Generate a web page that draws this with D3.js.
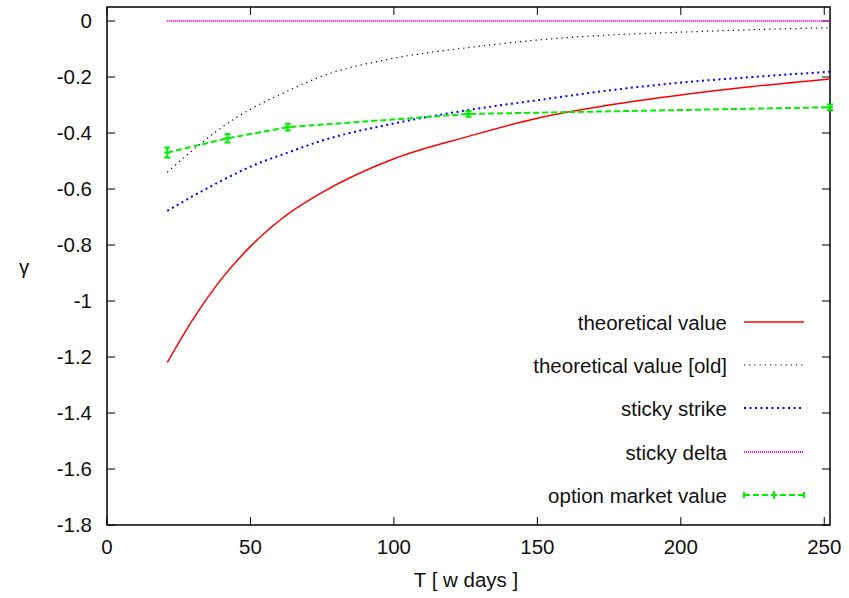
<!DOCTYPE html>
<html>
<head>
<meta charset="utf-8">
<script src="https://cdn.jsdelivr.net/npm/d3@7"></script>
<style>
  body { margin: 0; background: #fff; }
  text { font-family: "Liberation Sans", Arial, sans-serif; fill: #111; }
</style>
</head>
<body>
<script>
// values
let days = [21, 30, 40, 50, 63, 75, 100, 126, 150, 175, 200, 225, 252]
let theoretical = [-1.22, -1.065, -0.92, -0.805, -0.69, -0.612, -0.492, -0.412, -0.347, -0.300, -0.264, -0.234, -0.207]
let theoreticalOld = [-0.54, -0.46, -0.38, -0.315, -0.25, -0.197, -0.133, -0.095, -0.068, -0.05, -0.04, -0.031, -0.024]
let stickyStrike = [-0.678, -0.625, -0.57, -0.52, -0.47, -0.427, -0.366, -0.318, -0.283, -0.248, -0.22, -0.20, -0.181]
let stickyDelta = [0, 0, 0, 0, 0, 0, 0, 0, 0, 0, 0, 0, 0]
let marketDays = [21, 42, 63, 126, 252]
let marketValue = [-0.47, -0.419, -0.379, -0.332, -0.308]
let marketErr = [0.018, 0.015, 0.012, 0.01, 0.01]
let xTicks = [0, 50, 100, 150, 200, 250]
let yTicks = [0, -0.2, -0.4, -0.6, -0.8, -1, -1.2, -1.4, -1.6, -1.8]

let width = 849, height = 598
let m = { left: 107, right: 830, top: 7, bottom: 525 }
let fs = 20.5

let x = d3.scaleLinear().domain([0, 252]).range([m.left, m.right])
let y = d3.scaleLinear().domain([-1.8, 0.05]).range([m.bottom, m.top])

let svg = d3.select('body').append('svg').attr('width', width).attr('height', height)

// frame
svg.append('rect')
  .attr('x', m.left).attr('y', m.top)
  .attr('width', m.right - m.left).attr('height', m.bottom - m.top)
  .attr('fill', 'none').attr('stroke', '#000').attr('stroke-width', 1.5)

let tickLen = 8
let axes = svg.append('g').attr('stroke', '#000').attr('stroke-width', 1)
xTicks.forEach(t => {
  axes.append('line').attr('x1', x(t)).attr('x2', x(t)).attr('y1', m.bottom).attr('y2', m.bottom - tickLen)
  axes.append('line').attr('x1', x(t)).attr('x2', x(t)).attr('y1', m.top).attr('y2', m.top + tickLen)
  svg.append('text').attr('x', x(t)).attr('y', 554)
    .attr('text-anchor', 'middle').attr('font-size', fs).text(t)
})
yTicks.forEach(t => {
  axes.append('line').attr('x1', m.left).attr('x2', m.left + tickLen).attr('y1', y(t)).attr('y2', y(t))
  axes.append('line').attr('x1', m.right).attr('x2', m.right - tickLen).attr('y1', y(t)).attr('y2', y(t))
  svg.append('text').attr('x', 92).attr('y', y(t) + 7)
    .attr('text-anchor', 'end').attr('font-size', fs).text(t === 0 ? '0' : t)
})

svg.append('text').attr('x', 466).attr('y', 587)
  .attr('text-anchor', 'middle').attr('font-size', fs).text('T [ w days ]')
svg.append('text').attr('x', 24).attr('y', 274)
  .attr('text-anchor', 'middle').attr('font-size', fs).text('γ')

let line = d3.line().x(d => x(d[0])).y(d => y(d[1])).curve(d3.curveMonotoneX)

let series = [
  { name: 'theoretical value', vals: theoretical, color: '#ff0000', dash: null, w: 1.5 },
  { name: 'theoretical value [old]', vals: theoreticalOld, color: '#000000', dash: '1.2,4', w: 1.2 },
  { name: 'sticky strike', vals: stickyStrike, color: '#0000ff', dash: '2,3.5', w: 2 },
  { name: 'sticky delta', vals: stickyDelta, color: '#ff00ff', dash: '1,1', w: 1.8 }
]

series.forEach(s => {
  svg.append('path')
    .attr('d', line(days.map((d, i) => [d, s.vals[i]])))
    .attr('fill', 'none').attr('stroke', s.color)
    .attr('stroke-width', s.w).attr('stroke-dasharray', s.dash)
})

let green = '#00ee00'
svg.append('path')
  .attr('d', d3.line().x(d => x(d[0])).y(d => y(d[1]))(marketDays.map((d, i) => [d, marketValue[i]])))
  .attr('fill', 'none').attr('stroke', green).attr('stroke-width', 2).attr('stroke-dasharray', '6,3')

let eb = svg.append('g').attr('stroke', green).attr('stroke-width', 2)
marketDays.forEach((d, i) => {
  let cx = x(d), y1 = y(marketValue[i] + marketErr[i]), y2 = y(marketValue[i] - marketErr[i])
  eb.append('line').attr('x1', cx).attr('x2', cx).attr('y1', y1).attr('y2', y2)
  eb.append('line').attr('x1', cx - 3).attr('x2', cx + 3).attr('y1', y1).attr('y2', y1)
  eb.append('line').attr('x1', cx - 3).attr('x2', cx + 3).attr('y1', y2).attr('y2', y2)
  eb.append('line').attr('x1', cx - 3).attr('x2', cx + 3).attr('y1', y(marketValue[i])).attr('y2', y(marketValue[i]))
})

// legend
let legendY = [322, 365, 408, 452, 495]
let lx1 = 744, lx2 = 804, tx = 727
series.forEach((s, i) => {
  svg.append('text').attr('x', tx).attr('y', legendY[i] + 8)
    .attr('text-anchor', 'end').attr('font-size', fs).text(s.name)
  svg.append('line').attr('x1', lx1).attr('x2', lx2).attr('y1', legendY[i]).attr('y2', legendY[i])
    .attr('stroke', s.color).attr('stroke-width', s.w).attr('stroke-dasharray', s.dash)
})
let gy = legendY[4]
svg.append('text').attr('x', tx).attr('y', gy + 8)
  .attr('text-anchor', 'end').attr('font-size', fs).text('option market value')
let lg = svg.append('g').attr('stroke', green).attr('stroke-width', 2)
lg.append('line').attr('x1', lx1).attr('x2', lx2).attr('y1', gy).attr('y2', gy).attr('stroke-dasharray', '6,3')
lg.append('line').attr('x1', lx1).attr('x2', lx1).attr('y1', gy - 3).attr('y2', gy + 3)
lg.append('line').attr('x1', lx2).attr('x2', lx2).attr('y1', gy - 3).attr('y2', gy + 3)
lg.append('line').attr('x1', 774).attr('x2', 774).attr('y1', gy - 4).attr('y2', gy + 4)
</script>
</body>
</html>
